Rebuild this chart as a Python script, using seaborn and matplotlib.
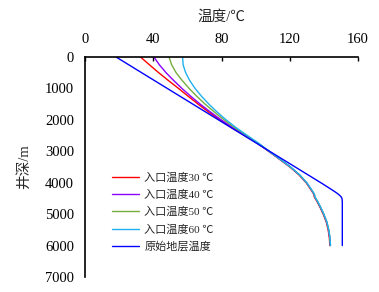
import pandas as pd
import matplotlib
matplotlib.use("Agg")
import matplotlib.pyplot as plt
import seaborn as sns

# data
depth = [0, 250, 500, 750, 1000, 1250, 1500, 1750, 2000, 2250, 2500, 2750, 3000,
         3250, 3500, 3750, 4000, 4200, 4300, 4350, 4400, 4450, 4500, 4600, 4800,
         5000, 5250, 5500, 5750, 6000]

t_30 = [32.5, 37.8, 43.2, 48.9, 54.8, 60.5, 66.3, 72.4, 78.9, 86.0, 93.8, 101.2, 107.6,
        113.9, 120.1, 125.4, 129.6, 132.1, 133.3, 133.9, 134.2, 134.4, 134.9, 136.0, 137.9,
        139.6, 141.4, 142.5, 143.2, 143.5]
t_40 = [40.4, 43.6, 47.5, 52.0, 56.8, 62.0, 67.5, 73.5, 79.8, 86.7, 94.2, 101.5, 107.7,
        114.1, 120.3, 125.6, 129.8, 132.3, 133.5, 134.1, 134.4, 134.6, 135.1, 136.2, 138.1,
        139.8, 141.6, 142.7, 143.4, 143.7]
t_50 = [49.2, 50.8, 53.4, 57.0, 61.0, 65.5, 70.4, 75.8, 81.5, 87.8, 94.8, 101.7, 107.8,
        114.2, 120.4, 125.7, 129.9, 132.4, 133.6, 134.2, 134.5, 134.7, 135.2, 136.3, 138.2,
        139.9, 141.7, 142.8, 143.5, 143.8]
t_60 = [57.2, 57.5, 59.0, 61.4, 64.5, 68.3, 72.6, 77.4, 82.7, 88.6, 95.2, 101.9, 107.9,
        114.3, 120.5, 125.8, 130.0, 132.5, 133.7, 134.3, 134.6, 134.8, 135.3, 136.4, 138.3,
        140.0, 141.8, 142.9, 143.6, 143.9]
t_orig = [18.2, 25.7, 33.2, 40.7, 48.2, 55.7, 63.2, 70.7, 78.2, 85.7, 93.2, 100.7, 108.2,
          115.7, 123.2, 130.7, 138.2, 144.0, 146.8, 148.1, 149.2, 150.1, 150.6, 150.8, 150.8,
          150.8, 150.8, 150.8, 150.8, 150.8]

labels = ["入口温度30 ℃", "入口温度40 ℃", "入口温度50 ℃", "入口温度60 ℃", "原始地层温度"]
colors = ["#FF0000", "#8B00FF", "#77AC3F", "#1FB0EE", "#0000FF"]
x_ticks = [0, 40, 80, 120, 160]
y_ticks = [0, 1000, 2000, 3000, 4000, 5000, 6000, 7000]

frames = []
for lab, temps in zip(labels, [t_30, t_40, t_50, t_60, t_orig]):
    frames.append(pd.DataFrame({"temp": temps, "depth": depth, "series": lab}))
df = pd.concat(frames, ignore_index=True)

sns.set_style("white")
plt.rcParams['font.family'] = ['Liberation Serif', 'Noto Sans CJK SC', 'DejaVu Sans']
plt.rcParams['axes.unicode_minus'] = False

fig = plt.figure(figsize=(3.79, 2.92), dpi=100)
ax = fig.add_axes([0.2243, 0.0514, 0.7203, 0.7534])

sns.lineplot(data=df, x="temp", y="depth", hue="series", hue_order=labels,
             palette=colors, orient="y", estimator=None, linewidth=1.0, ax=ax)

ax.set_xlim(0, 160)
ax.set_ylim(7000, 0)
ax.set_xticks(x_ticks)
ax.set_yticks(y_ticks)
ax.xaxis.tick_top()
ax.xaxis.set_label_position("top")
ax.set_xlabel("温度/℃", fontsize=10.5, labelpad=8.5)
ax.set_ylabel("井深/m", fontsize=10.5, labelpad=10)
ax.tick_params(axis="both", direction="in", length=3, width=1, labelsize=10.5, pad=8,
               colors="black")

for side in ["right", "bottom"]:
    ax.spines[side].set_visible(False)
for side in ["top", "left"]:
    ax.spines[side].set_color("black")
    ax.spines[side].set_linewidth(1.2)

ax.legend(loc="upper left", bbox_to_anchor=(0.099, 0.475), frameon=False,
          fontsize=8, handlelength=2.4, handletextpad=0.5, labelspacing=0.6,
          borderpad=0, borderaxespad=0)

fig.savefig("out.png", dpi=100)
